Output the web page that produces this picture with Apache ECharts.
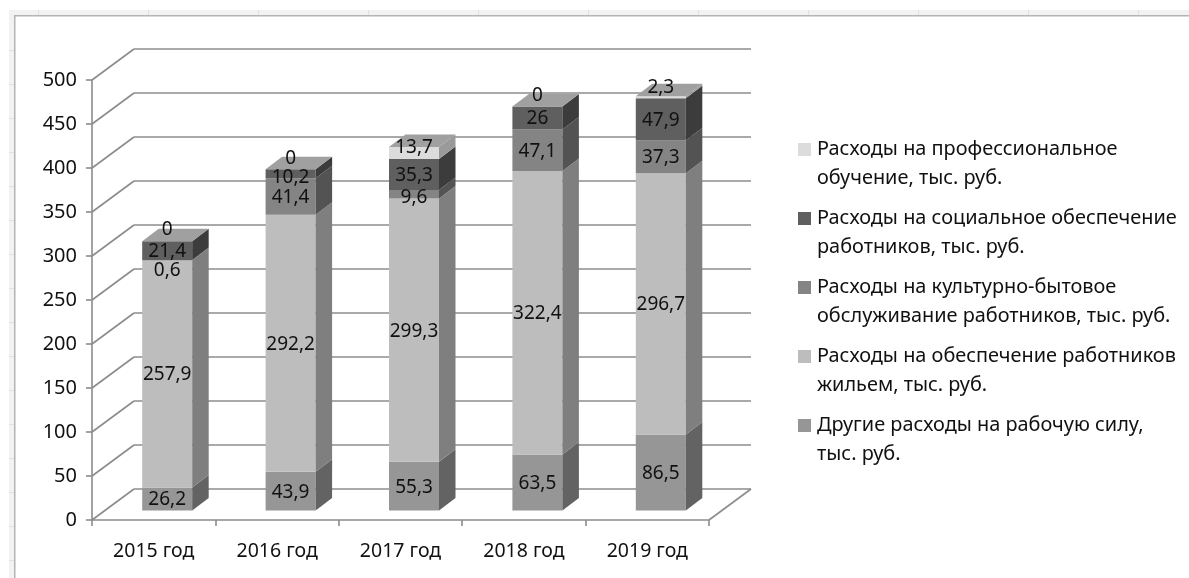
<!DOCTYPE html>
<html>
<head>
<meta charset="utf-8">
<script src="https://cdn.jsdelivr.net/npm/echarts@6/dist/echarts.min.js"></script>
<style>
html, body { margin: 0; padding: 0; background: #fff; }
#main { width: 1189px; height: 578px; }
</style>
</head>
<body>
<div id="main"></div>
<script>
var years = ['2015 год', '2016 год', '2017 год', '2018 год', '2019 год'];
var yTicks = [0, 50, 100, 150, 200, 250, 300, 350, 400, 450, 500];

var otherCosts = [26.2, 43.9, 55.3, 63.5, 86.5];
var housing = [257.9, 292.2, 299.3, 322.4, 296.7];
var cultural = [0.6, 41.4, 9.6, 47.1, 37.3];
var social = [21.4, 10.2, 35.3, 26, 47.9];
var training = [0, 0, 13.7, 0, 2.3];

var seriesNames = [
    'Другие расходы на рабочую силу,\nтыс. руб.',
    'Расходы на обеспечение работников\nжильем, тыс. руб.',
    'Расходы на культурно-бытовое\nобслуживание работников, тыс. руб.',
    'Расходы на социальное обеспечение\nработников, тыс. руб.',
    'Расходы на профессиональное\nобучение, тыс. руб.'
];
var seriesValues = [otherCosts, housing, cultural, social, training];

var frontColors = ['#969696', '#bdbdbd', '#848484', '#5f5f5f', '#dcdcdc'];
var sideColors = ['#636363', '#7f7f7f', '#535353', '#3c3c3c', '#9a9a9a'];
var topColor = '#a0a0a0';
var lineColor = '#8c8c8c';
var textColor = '#111';
var fontName = 'Noto Sans';

// depth of the fake 3d floor, and where a bar sits in it
var wallDx = 42, wallDy = -31;
var barDx = 13.5, barDy = -9.5;
var barW = 50, sideDx = 16.5, sideDy = -12.5;

// labels Excel moved off their segment: [series][year]
var labelShift = {
    '2,0': 9, '4,0': -13, '4,1': -12, '3,1': 3, '4,2': -6, '2,2': 2, '4,3': -12, '4,4': -11
};

function stackBase(si, i) {
    var sum = 0;
    for (var k = 0; k < si; k++) sum += seriesValues[k][i];
    return sum;
}

function barItem(si) {
    return function (params, api) {
        var i = api.value(0), base = api.value(1), val = api.value(2);
        var p0 = api.coord([i, base]), p1 = api.coord([i, base + val]);
        var x0 = p0[0] - barW / 2 + barDx, x1 = x0 + barW;
        var yb = p0[1] + barDy, yt = p1[1] + barDy;
        var kids = [
            { type: 'rect', shape: { x: x0, y: yt, width: barW, height: yb - yt }, style: { fill: frontColors[si] } },
            { type: 'polygon', shape: { points: [[x1, yb], [x1 + sideDx, yb + sideDy], [x1 + sideDx, yt + sideDy], [x1, yt]] }, style: { fill: sideColors[si] } }
        ];
        if (si == seriesValues.length - 1) {
            kids.push({ type: 'polygon', shape: { points: [[x0, yt], [x1, yt], [x1 + sideDx, yt + sideDy], [x0 + sideDx, yt + sideDy]] }, style: { fill: topColor } });
        }
        var shift = labelShift[si + ',' + i] || 0;
        kids.push({
            type: 'text', z2: 20,
            style: {
                x: x0 + barW / 2, y: (yb + yt) / 2 + 1 + shift,
                text: String(val).replace('.', ','),
                fill: textColor, font: '19px "' + fontName + '"', textAlign: 'center', textVerticalAlign: 'middle'
            }
        });
        return { type: 'group', children: kids };
    };
}

// diagonal lines on the left wall, one per tick
function wallItem(params, api) {
    var p = api.coord([0, api.value(0)]);
    var x = p[0] - api.size([1, 0])[0] / 2;
    return {
        type: 'line',
        shape: { x1: x, y1: p[1], x2: x + wallDx, y2: p[1] + wallDy },
        style: { stroke: lineColor, lineWidth: 1.6 }
    };
}

function floorItem(params, api) {
    var p = api.coord([years.length - 1, 0]);
    var x = p[0] + api.size([1, 0])[0] / 2;
    return {
        type: 'line',
        shape: { x1: x, y1: p[1], x2: x + wallDx, y2: p[1] + wallDy },
        style: { stroke: lineColor, lineWidth: 1.6 }
    };
}

var series = [
    { type: 'custom', xAxisIndex: 0, yAxisIndex: 0, silent: true, data: yTicks.map(function (t) { return [t]; }), renderItem: wallItem, encode: { y: 0 } },
    { type: 'custom', xAxisIndex: 0, yAxisIndex: 0, silent: true, data: [[0]], renderItem: floorItem, encode: { y: 0 } }
];
seriesValues.forEach(function (vals, si) {
    series.push({
        name: seriesNames[si],
        type: 'custom',
        xAxisIndex: 0,
        yAxisIndex: 0,
        itemStyle: { color: frontColors[si] },
        renderItem: barItem(si),
        encode: { x: 0, y: 1 },
        data: vals.map(function (v, i) { return [i, stackBase(si, i), v]; })
    });
});

// the spreadsheet window edge the screenshot caught
var frame = [
    { type: 'rect', shape: { x: 9, y: 10, width: 1180, height: 5 }, style: { fill: '#f2f2f2' } },
    { type: 'rect', shape: { x: 9, y: 10, width: 5, height: 568 }, style: { fill: '#f2f2f2' } },
    { type: 'rect', shape: { x: 14, y: 15, width: 1175, height: 1.5 }, style: { fill: '#b4b4b4' } },
    { type: 'rect', shape: { x: 14, y: 15, width: 1.5, height: 563 }, style: { fill: '#b4b4b4' } }
];
for (var fx = 38; fx < 1189; fx += 110) {
    frame.push({ type: 'rect', shape: { x: fx, y: 10, width: 1, height: 5 }, style: { fill: '#e0e0e0' } });
}
for (var fy = 50; fy < 578; fy += 34) {
    frame.push({ type: 'rect', shape: { x: 9, y: fy, width: 5, height: 1 }, style: { fill: '#e0e0e0' } });
}

var chart = echarts.init(document.getElementById('main'));
chart.setOption({
    animation: false,
    backgroundColor: '#fff',
    graphic: frame,
    grid: [
        { left: 92, top: 80, width: 617, height: 440 },
        { left: 134, top: 49, width: 617, height: 440 }
    ],
    xAxis: [
        {
            type: 'category', gridIndex: 0, data: years,
            axisLine: { lineStyle: { color: lineColor, width: 1.6 } },
            axisTick: { show: true, length: 6, alignWithLabel: false, lineStyle: { color: lineColor, width: 1.6 } },
            axisLabel: { color: textColor, fontFamily: fontName, fontSize: 19.5, margin: 21 }
        },
        { type: 'category', gridIndex: 1, data: years, show: false }
    ],
    yAxis: [
        {
            type: 'value', gridIndex: 0, min: 0, max: 500, interval: 50,
            splitLine: { show: false },
            axisLine: { show: true, lineStyle: { color: lineColor, width: 1.6 } },
            axisTick: { show: true, length: 6, lineStyle: { color: lineColor, width: 1.6 } },
            axisLabel: { color: textColor, fontFamily: fontName, fontSize: 20, margin: 15 }
        },
        {
            type: 'value', gridIndex: 1, min: 0, max: 500, interval: 50,
            axisLine: { show: false }, axisTick: { show: false }, axisLabel: { show: false },
            splitLine: { show: true, lineStyle: { color: lineColor, width: 1.6 } }
        }
    ],
    legend: {
        orient: 'vertical',
        left: 798,
        top: 135,
        padding: 0,
        itemWidth: 13,
        itemHeight: 42,
        itemGap: 11,
        selectedMode: false,
        // square at the top of a tall box, so it lines up with the first text line
        icon: 'path://M0,0L13,0L13,13L0,13Z M0,42L0,42Z',
        data: seriesNames.slice().reverse(),
        textStyle: { color: textColor, fontFamily: fontName, fontSize: 19.9, lineHeight: 29, padding: [0, 0, 0, 1] }
    },
    series: series
});
</script>
</body>
</html>
